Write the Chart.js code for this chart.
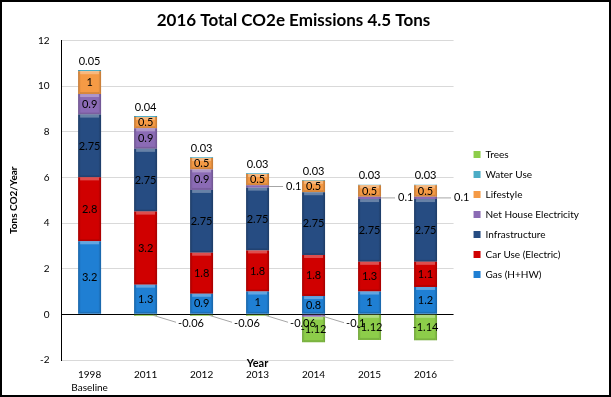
<!DOCTYPE html>
<html>
<head>
<meta charset="utf-8">
<script src="https://cdn.jsdelivr.net/npm/chart.js@4.4.1/dist/chart.umd.min.js"></script>
<style>
  html, body { margin: 0; padding: 0; background: #fff; }
  .frame { width: 611px; height: 397px; box-sizing: border-box; border: 2px solid #000; position: relative; }
  canvas { display: block; }
</style>
</head>
<body>
<div class="frame"><canvas id="emissionsChart"></canvas></div>
<script>
const years = [['1998', 'Baseline'], '2011', '2012', '2013', '2014', '2015', '2016'];

// stacked bottom to top
const gas = [3.2, 1.3, 0.9, 1, 0.8, 1, 1.2];
const carUse = [2.8, 3.2, 1.8, 1.8, 1.8, 1.3, 1.1];
const infrastructure = [2.75, 2.75, 2.75, 2.75, 2.75, 2.75, 2.75];
const netHouse = [0.9, 0.9, 0.9, 0.1, -0.1, 0.1, 0.1];
const lifestyle = [1, 0.5, 0.5, 0.5, 0.5, 0.5, 0.5];
const waterUse = [0.05, 0.04, 0.03, 0.03, 0.03, 0.03, 0.03];
const trees = [0, -0.06, -0.06, -0.06, -1.12, -1.12, -1.14];

const yMin = -2;
const yMax = 12;
const yStep = 2;

const FONT = 'Lato';

// rough version of the Excel bevel: dark edges and a light top strip
const bevel = {
    id: 'bevel',
    afterDatasetsDraw(chart) {
        const ctx = chart.ctx;
        ctx.save();
        chart.data.datasets.forEach((ds, di) => {
            chart.getDatasetMeta(di).data.forEach((bar, i) => {
                if (!ds.data[i]) return;
                const { x, y, base, width } = bar.getProps(['x', 'y', 'base', 'width'], true);
                const left = x - width / 2;
                const top = Math.min(y, base);
                const h = Math.abs(base - y);
                const g = ctx.createLinearGradient(left, 0, left + width, 0);
                g.addColorStop(0, 'rgba(0,0,0,0.22)');
                g.addColorStop(0.12, 'rgba(0,0,0,0)');
                g.addColorStop(0.88, 'rgba(0,0,0,0)');
                g.addColorStop(1, 'rgba(0,0,0,0.22)');
                ctx.fillStyle = g;
                ctx.fillRect(left, top, width, h);
                if (h > 5) {
                    ctx.fillStyle = 'rgba(255,255,255,0.3)';
                    ctx.fillRect(left + 2, top, width - 4, 3);
                    ctx.fillStyle = 'rgba(0,0,0,0.12)';
                    ctx.fillRect(left + 2, top + h - 2, width - 4, 2);
                }
            });
        });
        ctx.restore();
    }
};

// value labels, small slices get a leader line like the Excel original
const segmentLabels = {
    id: 'segmentLabels',
    afterDatasetsDraw(chart) {
        const ctx = chart.ctx;
        ctx.save();
        ctx.font = `11px ${FONT}`;
        ctx.fillStyle = '#000';
        ctx.strokeStyle = '#a6a6a6';
        ctx.lineWidth = 1;
        chart.data.datasets.forEach((ds, di) => {
            const meta = chart.getDatasetMeta(di);
            meta.data.forEach((bar, i) => {
                const v = ds.data[i];
                if (!v) return;
                const { x, y, base, width } = bar.getProps(['x', 'y', 'base', 'width'], true);
                const mid = (y + base) / 2;
                const right = x + width / 2;
                if (ds.label === 'Water Use') {
                    ctx.textAlign = 'center';
                    ctx.textBaseline = 'middle';
                    ctx.fillText(String(v), x, y - 9);
                } else if (Math.abs(v) < 0.2) {
                    ctx.beginPath();
                    if (v > 0) {
                        ctx.moveTo(right, mid);
                        ctx.lineTo(right + 14, mid);
                    } else {
                        ctx.moveTo(right - 4, mid);
                        ctx.lineTo(right + 19, mid + 7);
                    }
                    ctx.stroke();
                    ctx.textAlign = 'left';
                    ctx.textBaseline = 'middle';
                    ctx.fillText(String(v), right + (v > 0 ? 17 : 21), v > 0 ? mid : mid + 8);
                } else {
                    ctx.textAlign = 'center';
                    ctx.textBaseline = 'middle';
                    ctx.fillText(String(v), x, mid);
                }
            });
        });
        ctx.restore();
    }
};

// "Year" sits between the plot and the tick labels; legend nudged down/right a bit
const yearTitle = {
    id: 'yearTitle',
    afterLayout(chart) {
        const lg = chart.legend;
        lg.top += 16;
        lg.bottom += 16;
        lg.left += 10;
        lg.right += 10;
    },
    afterDraw(chart) {
        const { ctx, chartArea } = chart;
        ctx.save();
        ctx.font = `bold 11px ${FONT}`;
        ctx.fillStyle = '#000';
        ctx.textAlign = 'center';
        ctx.textBaseline = 'middle';
        ctx.fillText('Year', (chartArea.left + chartArea.right) / 2, chartArea.bottom + 3);
        ctx.restore();
    }
};

const mk = (label, data, color) => ({
    label, data,
    backgroundColor: color,
    borderWidth: 0,
    stack: 'total',
    barPercentage: 0.41,
    categoryPercentage: 1
});

new Chart(document.getElementById('emissionsChart'), {
    type: 'bar',
    data: {
        labels: years,
        datasets: [
            mk('Gas (H+HW)', gas, '#1f7fd3'),
            mk('Car Use (Electric)', carUse, '#d00000'),
            mk('Infrastructure', infrastructure, '#264c82'),
            mk('Net House Electricity', netHouse, '#8b6bb5'),
            mk('Lifestyle', lifestyle, '#f59a45'),
            mk('Water Use', waterUse, '#4bacc6'),
            mk('Trees', trees, '#8dcd4a')
        ]
    },
    options: {
        responsive: true,
        maintainAspectRatio: false,
        animation: false,
        layout: { padding: { left: 6, right: 30, top: 0, bottom: 0 } },
        plugins: {
            title: {
                display: true,
                text: '2016 Total CO2e Emissions 4.5 Tons',
                color: '#000',
                font: { family: FONT, size: 17, weight: 'bold' },
                padding: { top: 8, bottom: 10 }
            },
            legend: {
                position: 'right',
                reverse: true,
                labels: {
                    boxWidth: 7,
                    boxHeight: 7,
                    padding: 10,
                    color: '#000',
                    font: { family: FONT, size: 10 }
                }
            },
            tooltip: { enabled: false }
        },
        scales: {
            x: {
                stacked: true,
                grid: { display: false },
                border: { display: false },
                ticks: { color: '#000', font: { family: FONT, size: 10, lineHeight: 1.35 }, padding: 0, maxRotation: 0 },
                afterFit(scale) { scale.height = 35; }
            },
            y: {
                stacked: true,
                min: yMin,
                max: yMax,
                ticks: { stepSize: yStep, color: '#000', font: { family: FONT, size: 10 }, padding: 12 },
                grid: {
                    drawTicks: false,
                    color: c => (c.tick && c.tick.value === 0 ? '#000' : '#d9d9d9')
                },
                border: { color: '#000', width: 1 },
                title: {
                    display: true,
                    text: 'Tons CO2/Year',
                    color: '#000',
                    font: { family: FONT, size: 10, weight: 'bold' },
                    padding: { top: 0, bottom: 6 }
                }
            }
        }
    },
    plugins: [bevel, segmentLabels, yearTitle]
});
</script>
</body>
</html>
